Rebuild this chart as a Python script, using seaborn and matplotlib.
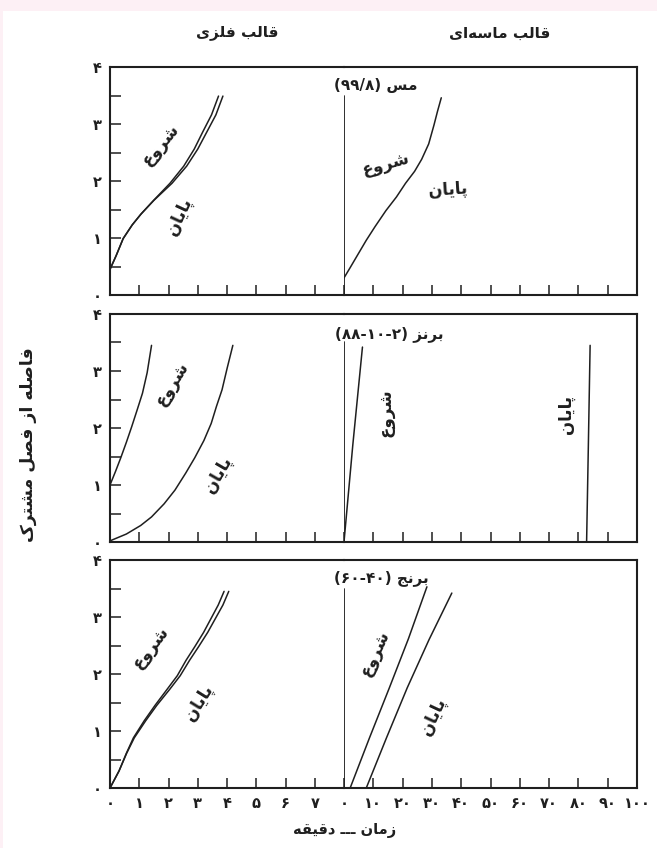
import numpy as np
import seaborn as sns
import matplotlib.pyplot as plt
from matplotlib.patches import Rectangle

# presentation forms for the Persian letters used: (isolated, final, initial, medial)
FORMS = {
    'ا': ('\uFE8D', '\uFE8E'),
    'ب': ('\uFE8F', '\uFE90', '\uFE91', '\uFE92'),
    'پ': ('\uFB56', '\uFB57', '\uFB58', '\uFB59'),
    'ت': ('\uFE95', '\uFE96', '\uFE97', '\uFE98'),
    'ج': ('\uFE9D', '\uFE9E', '\uFE9F', '\uFEA0'),
    'د': ('\uFEA9', '\uFEAA'),
    'ر': ('\uFEAD', '\uFEAE'),
    'ز': ('\uFEAF', '\uFEB0'),
    'س': ('\uFEB1', '\uFEB2', '\uFEB3', '\uFEB4'),
    'ش': ('\uFEB5', '\uFEB6', '\uFEB7', '\uFEB8'),
    'ص': ('\uFEB9', '\uFEBA', '\uFEBB', '\uFEBC'),
    'ع': ('\uFEC9', '\uFECA', '\uFECB', '\uFECC'),
    'ف': ('\uFED1', '\uFED2', '\uFED3', '\uFED4'),
    'ق': ('\uFED5', '\uFED6', '\uFED7', '\uFED8'),
    'ک': ('\uFB8E', '\uFB8F', '\uFB90', '\uFB91'),
    'ل': ('\uFEDD', '\uFEDE', '\uFEDF', '\uFEE0'),
    'م': ('\uFEE1', '\uFEE2', '\uFEE3', '\uFEE4'),
    'ن': ('\uFEE5', '\uFEE6', '\uFEE7', '\uFEE8'),
    'ه': ('\uFEE9', '\uFEEA', '\uFEEB', '\uFEEC'),
    'و': ('\uFEED', '\uFEEE'),
    'ی': ('\uFBFC', '\uFBFD', '\uFBFE', '\uFBFF'),
    'ـ': ('ـ', 'ـ', 'ـ', 'ـ'),
}


def fa(text):
    # join letters and put them in visual (left to right) order
    out = []
    for i, ch in enumerate(text):
        if ch not in FORMS:
            out.append(ch)
            continue
        prev = text[i - 1] if i > 0 else ''
        nxt = text[i + 1] if i + 1 < len(text) else ''
        f = FORMS[ch]
        jp = prev in FORMS and len(FORMS[prev]) == 4
        jn = len(f) == 4 and nxt in FORMS
        if jp and jn:
            out.append(f[3])
        elif jp:
            out.append(f[1])
        elif jn:
            out.append(f[2])
        else:
            out.append(f[0])
    return ''.join(c for c in reversed(out) if c != '\u200c')


def fa_num(v):
    return str(v).translate(str.maketrans('0123456789', '۰۱۲۳۴۵۶۷۸۹'))


# ---- data (x in minutes, y = distance from interface) ----
# copper 99.8, metal mold
cu_metal_start_x = [0, 0.21, 0.45, 0.76, 1.06, 1.49, 2.05, 2.52, 2.88, 3.17, 3.47, 3.71]
cu_metal_start_y = [0.45, 0.69, 0.99, 1.23, 1.42, 1.66, 1.96, 2.26, 2.56, 2.86, 3.16, 3.49]
cu_metal_end_x = [0, 0.21, 0.45, 0.76, 1.06, 1.5, 2.12, 2.62, 3.0, 3.31, 3.62, 3.86]
cu_metal_end_y = [0.45, 0.69, 0.99, 1.23, 1.42, 1.66, 1.96, 2.26, 2.56, 2.86, 3.16, 3.49]
# copper, sand mold
cu_sand_x = [0, 2.1, 4.5, 7.6, 10.6, 14.3, 17.9, 21.0, 24.1, 26.5, 28.9, 30.7, 31.9, 33.2]
cu_sand_y = [0.3, 0.48, 0.69, 0.96, 1.2, 1.48, 1.72, 1.96, 2.17, 2.38, 2.65, 2.98, 3.22, 3.46]

# bronze 88-10-2, metal mold
bz_metal_start_x = [0, 0.19, 0.37, 0.56, 0.74, 0.93, 1.11, 1.27, 1.42]
bz_metal_start_y = [1.0, 1.24, 1.48, 1.75, 2.02, 2.32, 2.61, 2.97, 3.45]
bz_metal_end_x = [0, 0.56, 1.05, 1.42, 1.85, 2.22, 2.59, 2.9, 3.21, 3.46, 3.64, 3.83, 4.01, 4.2]
bz_metal_end_y = [0.02, 0.14, 0.29, 0.44, 0.67, 0.91, 1.21, 1.48, 1.78, 2.08, 2.38, 2.67, 3.06, 3.45]
# bronze, sand mold
bz_sand_start_x = [0, 3.0, 6.3]
bz_sand_start_y = [0, 1.7, 3.42]
bz_sand_end_x = [82.8, 83.4, 84.0]
bz_sand_end_y = [0, 1.7, 3.45]

# brass 60-40, metal mold
br_metal_start_x = [0, 0.31, 0.56, 0.8, 1.17, 1.54, 1.95, 2.3, 2.6, 2.9, 3.2, 3.45, 3.7, 3.9]
br_metal_start_y = [0, 0.3, 0.61, 0.88, 1.18, 1.45, 1.73, 1.97, 2.24, 2.48, 2.73, 2.97, 3.21, 3.45]
br_metal_end_x = [0, 0.31, 0.57, 0.83, 1.22, 1.6, 2.04, 2.4, 2.72, 3.03, 3.34, 3.6, 3.86, 4.06]
br_metal_end_y = [0, 0.3, 0.61, 0.88, 1.18, 1.45, 1.73, 1.97, 2.24, 2.48, 2.73, 2.97, 3.21, 3.45]
# brass, sand mold
br_sand_start_x = [2.1, 8.7, 15.5, 22.0, 28.3]
br_sand_start_y = [0, 0.88, 1.76, 2.62, 3.53]
br_sand_end_x = [7.6, 14.5, 21.6, 29.0, 36.8]
br_sand_end_y = [0, 0.88, 1.76, 2.6, 3.42]

sand_ref_y = [0, 3.5]

metal_ticks = list(range(0, 8))
sand_ticks = list(range(0, 101, 10))
y_ticks = list(np.arange(0, 4.01, 0.5))

alloy_names = [fa('مس'), fa('برنز'), fa('برنج')]
alloy_specs = ['(۹۹/۸)', '(۸۸-۱۰-۲)', '(۶۰-۴۰)']
start_txt = fa('شروع')
end_txt = fa('پایان')

panels = [
    dict(metal=[(cu_metal_start_x, cu_metal_start_y), (cu_metal_end_x, cu_metal_end_y)],
         sand=[(cu_sand_x, cu_sand_y)],
         metal_lbl=[(1.72, 2.64, 50, start_txt), (2.35, 1.38, 65, end_txt)],
         sand_lbl=[(14.3, 2.3, 15, start_txt), (35.5, 1.85, 4, end_txt)],
         name_pos=(10.9, 3.68)),
    dict(metal=[(bz_metal_start_x, bz_metal_start_y), (bz_metal_end_x, bz_metal_end_y)],
         sand=[(bz_sand_start_x, bz_sand_start_y), (bz_sand_end_x, bz_sand_end_y)],
         metal_lbl=[(2.1, 2.78, 58, start_txt), (3.7, 1.18, 60, end_txt)],
         sand_lbl=[(14.3, 2.26, 90, start_txt), (75.6, 2.23, 90, end_txt)],
         name_pos=(15.5, 3.65)),
    dict(metal=[(br_metal_start_x, br_metal_start_y), (br_metal_end_x, br_metal_end_y)],
         sand=[(br_sand_start_x, br_sand_start_y), (br_sand_end_x, br_sand_end_y)],
         metal_lbl=[(1.38, 2.46, 52, start_txt), (3.05, 1.5, 58, end_txt)],
         sand_lbl=[(10.4, 2.36, 65, start_txt), (30.4, 1.25, 65, end_txt)],
         name_pos=(12.7, 3.68)),
]

sns.set_theme(style='white')
plt.rcParams['font.family'] = ['DejaVu Sans']

W, H = 657, 848
fig = plt.figure(figsize=(W / 100, H / 100), dpi=100)
fig.patch.set_facecolor('white')
# pale pink page border (top strip and thin left strip)
fig.patches.append(Rectangle((0, 1 - 11 / H), 1, 11 / H, transform=fig.transFigure,
                             facecolor='#fdf0f5', edgecolor='none'))
fig.patches.append(Rectangle((0, 0), 3 / W, 1, transform=fig.transFigure,
                             facecolor='#fdf0f5', edgecolor='none'))

ink = '#1f1f1f'
x0, xm, x1 = 110, 344, 637
rows = [(67, 295), (314, 542), (560, 788)]

for k, (p, (top, bot)) in enumerate(zip(panels, rows)):
    axL = fig.add_axes([x0 / W, 1 - bot / H, (xm - x0) / W, (bot - top) / H])
    axR = fig.add_axes([xm / W, 1 - bot / H, (x1 - xm) / W, (bot - top) / H])
    for ax in (axL, axR):
        ax.set_facecolor('none')
        for s in ax.spines.values():
            s.set_color(ink)
            s.set_linewidth(1.5)
        ax.set_ylim(0, 4)
    axL.spines['right'].set_visible(False)
    axR.spines['left'].set_visible(False)
    axL.set_xlim(0, 8)
    axR.set_xlim(0, 100)

    for xs, ys in p['metal']:
        sns.lineplot(x=xs, y=ys, ax=axL, color=ink, lw=1.1, sort=False, estimator=None)
    sns.lineplot(x=[0, 0], y=sand_ref_y, ax=axR, color=ink, lw=1.3, sort=False, estimator=None)
    for xs, ys in p['sand']:
        sns.lineplot(x=xs, y=ys, ax=axR, color=ink, lw=1.1, sort=False, estimator=None)

    for x, y, r, t in p['metal_lbl']:
        axL.text(x, y, t, rotation=r, ha='center', va='center', rotation_mode='anchor',
                 fontsize=12, fontweight='bold', color=ink)
    for x, y, r, t in p['sand_lbl']:
        axR.text(x, y, t, rotation=r, ha='center', va='center', rotation_mode='anchor',
                 fontsize=12, fontweight='bold', color=ink)
    nx, ny = p['name_pos']
    axR.text(nx, ny, alloy_specs[k] + ' ' + alloy_names[k], ha='center', va='center',
             fontsize=11, fontweight='bold', color=ink)

    axL.set_xticks(metal_ticks)
    axR.set_xticks(sand_ticks)
    axL.set_yticks(y_ticks)
    axL.set_yticklabels([fa_num(int(v)) if v == int(v) else '' for v in y_ticks])
    axR.set_yticks([])
    axL.tick_params(axis='both', direction='in', width=1.1, color=ink,
                    labelsize=10.5, labelcolor=ink, pad=6)
    axL.tick_params(axis='y', length=8, left=True)
    axL.tick_params(axis='x', length=7, bottom=True)
    axR.tick_params(axis='x', direction='in', length=7, width=1.1, color=ink,
                    labelsize=10.5, labelcolor=ink, pad=6, bottom=True)
    if k == 2:
        axL.set_xticklabels([fa_num(v) for v in metal_ticks], fontweight='bold')
        axR.set_xticklabels([fa_num(v) for v in sand_ticks], fontweight='bold')
    else:
        axL.set_xticklabels([])
        axR.set_xticklabels([])
    for lab in axL.get_yticklabels():
        lab.set_fontweight('bold')
    axL.set_xlabel('')
    axR.set_xlabel('')
    axL.set_ylabel('')
    axR.set_ylabel('')

fig.text(237 / W, 1 - 33 / H, fa('قالب فلزی'), ha='center', va='center',
         fontsize=11, fontweight='bold', color=ink)
fig.text(500 / W, 1 - 33 / H, fa('قالب ماسه\u200cای'), ha='center', va='center',
         fontsize=11, fontweight='bold', color=ink)
fig.text(28 / W, 1 - 445 / H, fa('فاصله از فصل مشترک'), rotation=90, ha='center',
         va='center', fontsize=12.5, fontweight='bold', color=ink)
fig.text(345 / W, 1 - 830 / H, fa('زمان ـــ دقیقه'), ha='center', va='center',
         fontsize=10.5, fontweight='bold', color=ink)

fig.savefig('out.png', dpi=100, facecolor=fig.get_facecolor())
